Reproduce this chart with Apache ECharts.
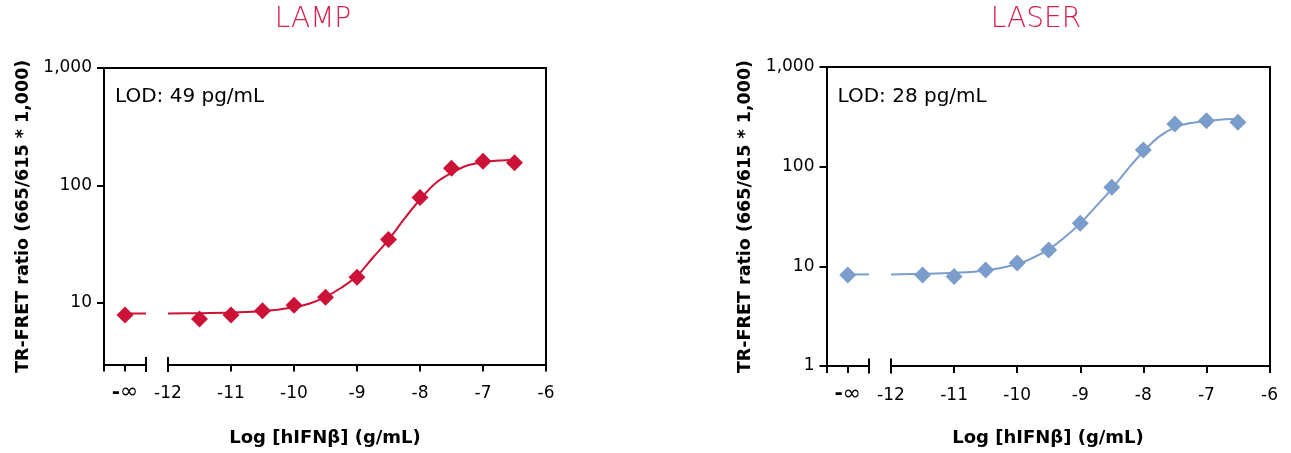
<!DOCTYPE html>
<html><head><meta charset="utf-8">
<script src="https://cdn.jsdelivr.net/npm/echarts@6/dist/echarts.min.js"></script>
<style>html,body{margin:0;padding:0;background:#fff}#c{width:1291px;height:453px}</style>
</head><body><div id="c"></div>
<script>
// ---- data ----
const titles = ['LAMP', 'LASER'];
const lodTexts = ['LOD: 49 pg/mL', 'LOD: 28 pg/mL'];
const xAxisName = 'Log [hIFN\u03b2] (g/mL)';
const yAxisName = 'TR-FRET ratio (665/615 * 1,000)';
const xTickLabels = [-12, -11, -10, -9, -8, -7, -6];
const blankLabel = ['-', '\u221e'];
const yTickValues = [1, 10, 100, 1000];
const concX = [-11.5, -11, -10.5, -10, -9.5, -9, -8.5, -8, -7.5, -7, -6.5];
const lampBlank = 7.9;
const lampValues = [7.3, 7.9, 8.6, 9.6, 11.2, 16.6, 34.7, 79, 140, 161, 156];
const laserBlank = 8.2;
const laserValues = [8.2, 7.9, 9.2, 10.8, 14.6, 27, 62, 147, 268, 289, 279];
const fitX = [-12, -11.5, -11, -10.5, -10, -9.75, -9.5, -9.25, -9, -8.75, -8.5, -8.25, -8, -7.75, -7.5, -7.25, -7, -6.75, -6.5];
const lampFit = [8.15, 8.2, 8.3, 8.5, 9.2, 9.9, 11.3, 13.5, 17, 24.3, 34.5, 52, 76, 105, 128, 148, 158, 163, 166];
const laserFit = [8.3, 8.4, 8.6, 9.1, 10.5, 12.2, 14.8, 19.5, 27, 40, 60, 94, 142, 200, 248, 274, 288, 297, 302];
const lampBlankFit = 8.15;
const laserBlankFit = 8.3;

const RED = '#cc1237';
const TITLE_RED = '#d4204f';
const BLUE = '#7b9dcb';
const FONT = 'DejaVu Sans';

const panels = [
  {color: RED, blank: lampBlank, values: lampValues, fit: lampFit, blankFit: lampBlankFit,
   yMin: 3, left: 104, gapL: 146, gapR: 168, right: 546, top: 68, bottom: 364.5},
  {color: BLUE, blank: laserBlank, values: laserValues, fit: laserFit, blankFit: laserBlankFit,
   yMin: 1, left: 826.5, gapL: 869, gapR: 891, right: 1269.5, top: 67, bottom: 366}
];

const W = 1291, H = 453;
const grids = [], xAxes = [], yAxes = [], series = [], graphics = [];
const axisLineStyle = {color: '#000', width: 2};
const labelStyle = {color: '#000', fontSize: 17, fontFamily: FONT};

panels.forEach((p, k) => {
  const g0 = grids.length;
  const gh = p.bottom - p.top;
  grids.push({left: p.left, width: p.gapL - p.left, top: p.top, height: gh, outerBoundsMode: 'none'});
  grids.push({left: p.gapR, width: p.right - p.gapR, top: p.top, height: gh, outerBoundsMode: 'none'});
  grids.push({left: p.left, width: p.right - p.left, top: p.top, height: gh, outerBoundsMode: 'none'});

  const xi = xAxes.length, yi = yAxes.length;
  xAxes.push({gridIndex: g0, type: 'value', min: 0, max: 2, interval: 1,
    axisLine: {onZero: false, lineStyle: axisLineStyle}, splitLine: {show: false},
    axisTick: {length: 7, lineStyle: axisLineStyle, customValues: [0, 1]},
    axisLabel: Object.assign({margin: 17, customValues: [1], formatter: () => '{d|' + blankLabel[0] + '}{i|' + blankLabel[1] + '}',
      rich: {d: {fontSize: 20, fontWeight: 'bold', fontFamily: FONT, color: '#000'},
             i: {fontSize: 22, fontFamily: FONT, color: '#000'}}}, labelStyle)});
  xAxes.push({gridIndex: g0 + 1, type: 'value', min: -12, max: -6, interval: 1,
    axisLine: {onZero: false, lineStyle: axisLineStyle}, splitLine: {show: false},
    axisTick: {length: 7, lineStyle: axisLineStyle},
    axisLabel: Object.assign({margin: 21, customValues: xTickLabels}, labelStyle)});
  xAxes.push({gridIndex: g0 + 2, type: 'value', min: 0, max: 1, position: 'top',
    axisLine: {onZero: false, lineStyle: axisLineStyle}, axisTick: {show: false}, axisLabel: {show: false}, splitLine: {show: false}});

  yAxes.push({gridIndex: g0, type: 'log', logBase: 10, min: p.yMin, max: 1000,
    axisLine: {show: true, onZero: false, lineStyle: axisLineStyle}, splitLine: {show: false},
    axisTick: {show: true, length: 7, lineStyle: axisLineStyle, customValues: yTickValues},
    axisLabel: Object.assign({margin: 12, customValues: yTickValues,
      formatter: v => v >= 1000 ? '1,000' : String(v)}, labelStyle),
    name: yAxisName, nameLocation: 'middle', nameRotate: 90, nameGap: 72,
    nameTextStyle: {color: '#000', fontSize: 17.5, fontWeight: 'bold', fontFamily: FONT}});
  yAxes.push({gridIndex: g0 + 1, type: 'log', logBase: 10, min: p.yMin, max: 1000, show: false});
  yAxes.push({gridIndex: g0 + 2, type: 'value', min: 0, max: 1, position: 'right',
    axisLine: {show: true, onZero: false, lineStyle: axisLineStyle}, axisTick: {show: false}, axisLabel: {show: false}, splitLine: {show: false}});

  const lineSt = {color: p.color, width: 2};
  series.push({type: 'line', xAxisIndex: xi, yAxisIndex: yi, data: [[1, p.blankFit], [2, p.blankFit]],
    showSymbol: false, symbol: 'none', lineStyle: lineSt, silent: true, clip: false, z: 2});
  series.push({type: 'line', xAxisIndex: xi + 1, yAxisIndex: yi + 1, smooth: 0.35,
    data: fitX.map((x, i) => [x, p.fit[i]]), showSymbol: false, symbol: 'none', lineStyle: lineSt, silent: true, z: 2});
  series.push({type: 'scatter', xAxisIndex: xi, yAxisIndex: yi, data: [[1, p.blank]],
    symbol: 'diamond', symbolSize: 17, itemStyle: {color: p.color, opacity: 1}, z: 3, clip: false});
  series.push({type: 'scatter', xAxisIndex: xi + 1, yAxisIndex: yi + 1, data: concX.map((x, i) => [x, p.values[i]]),
    symbol: 'diamond', symbolSize: 17, itemStyle: {color: p.color, opacity: 1}, z: 3, clip: false});
  series.push({type: 'scatter', xAxisIndex: xi, yAxisIndex: yi, data: [[2, p.yMin]],
    symbol: 'rect', symbolSize: [2, 15], itemStyle: {color: '#000', opacity: 1}, clip: false, silent: true, z: 5});
  series.push({type: 'scatter', xAxisIndex: xi + 1, yAxisIndex: yi + 1, data: [[-12, p.yMin]],
    symbol: 'rect', symbolSize: [2, 15], itemStyle: {color: '#000', opacity: 1}, clip: false, silent: true, z: 5});

  const cx = (p.left + p.right) / 2;
  graphics.push({type: 'text', x: cx - 12, y: 20, style: {text: titles[k], fill: TITLE_RED, fontSize: 28, fontWeight: 300,
    fontFamily: FONT, align: 'center', verticalAlign: 'middle'}});
  graphics.push({type: 'text', x: p.left + 11, y: 97, style: {text: lodTexts[k], fill: '#000', fontSize: 20,
    fontFamily: FONT, align: 'left', verticalAlign: 'middle'}});
  graphics.push({type: 'text', x: cx, y: 438, style: {text: xAxisName, fill: '#000', fontSize: 18, fontWeight: 'bold',
    fontFamily: FONT, align: 'center', verticalAlign: 'middle'}});
});

const chart = echarts.init(document.getElementById('c'), null, {renderer: 'canvas', width: W, height: H});
chart.setOption({
  animation: false,
  backgroundColor: '#fff',
  textStyle: {fontFamily: FONT},
  grid: grids, xAxis: xAxes, yAxis: yAxes, series: series, graphic: graphics
});
</script></body></html>
